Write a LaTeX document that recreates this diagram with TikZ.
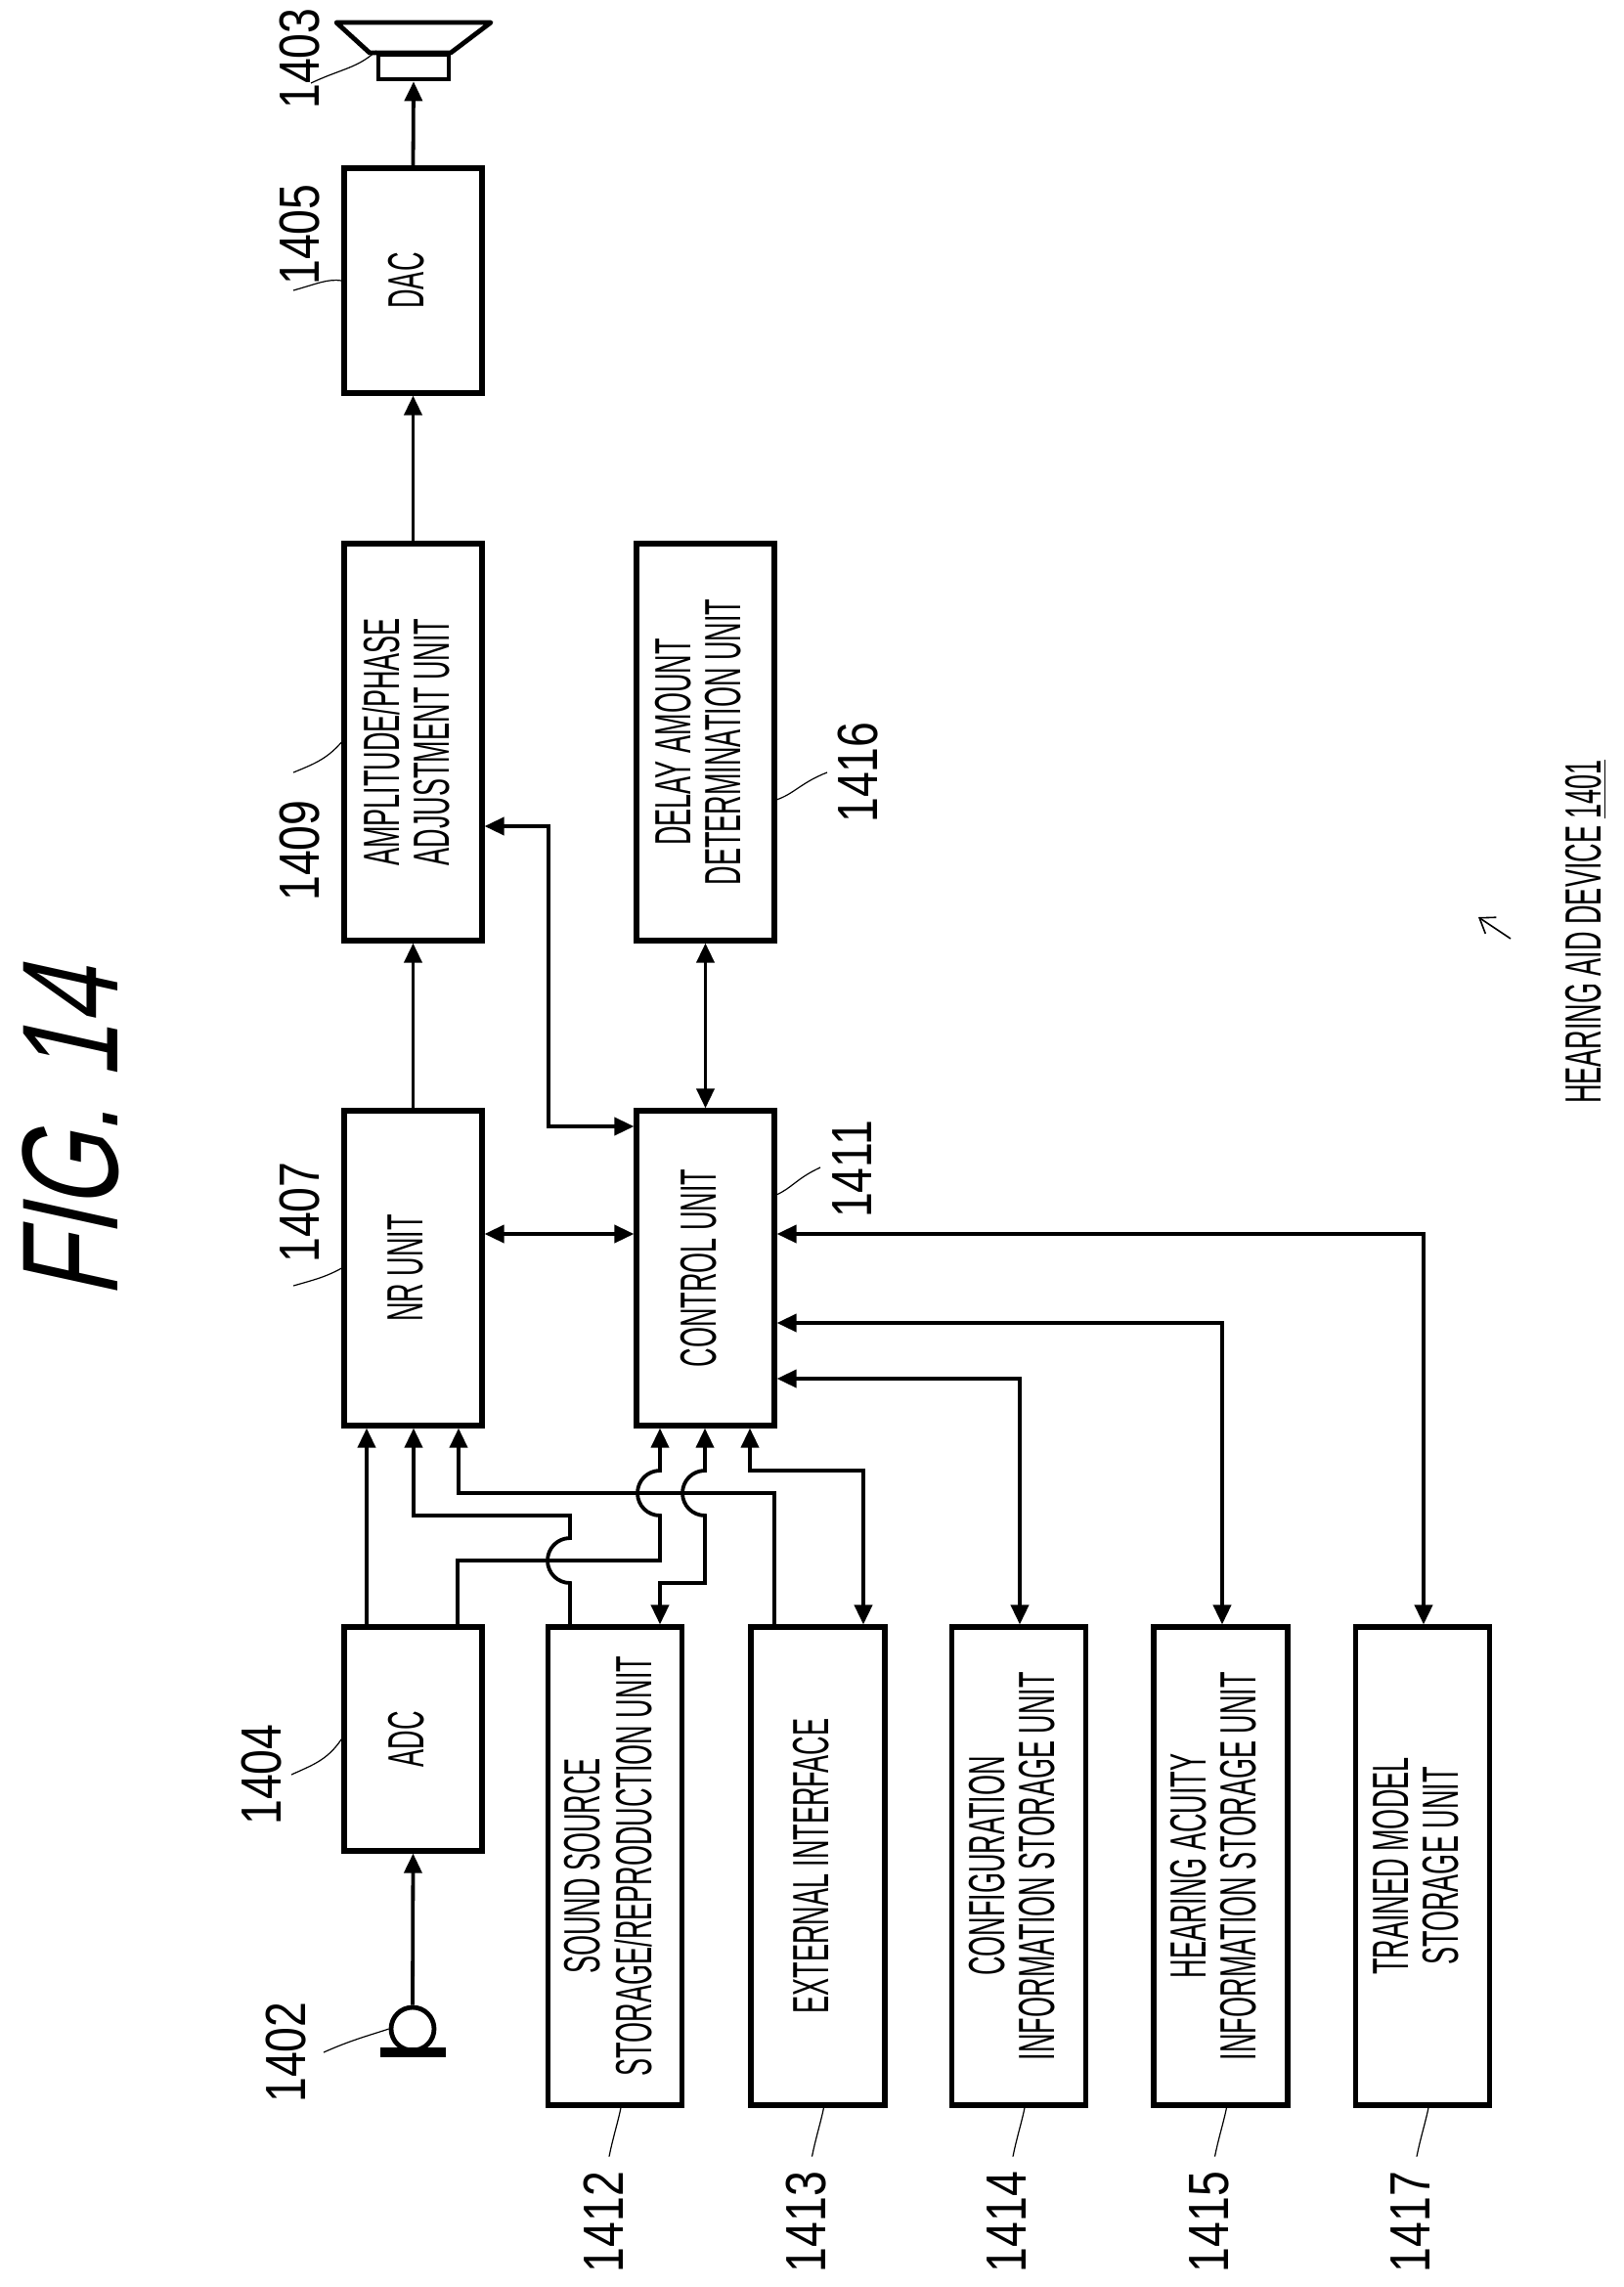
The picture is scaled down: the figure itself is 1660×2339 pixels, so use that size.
\documentclass[tikz,border=0pt]{standalone}
\usepackage{fontspec}
\setmainfont{Liberation Sans}
\newfontfamily\nar[FakeStretch=0.52]{Liberation Sans}
\newfontfamily\numf[FakeStretch=0.8]{Liberation Sans}
\newfontfamily\figf[FakeStretch=0.72,FakeSlant=0.22]{Liberation Sans}
\usetikzlibrary{arrows.meta,calc}
\begin{document}
\begin{tikzpicture}[x=0.5pt,y=-0.5pt,
  box/.style={draw,line width=2.6pt,minimum width=70.5pt,inner sep=0pt,font=\nar\fontsize{26}{25}\selectfont},
  sbox/.style={box,minimum width=68.5pt,minimum height=244.5pt},
  con/.style={line width=1.9pt},
  arr/.style={con,-{Triangle[length=10pt,width=9pt]}},
  darr/.style={con,{Triangle[length=10pt,width=9pt]}-{Triangle[length=10pt,width=9pt]}},
  lead/.style={line width=0.6pt},
  lab/.style={font=\numf\fontsize{29}{29}\selectfont,rotate=90}]
\useasboundingbox (0,0) rectangle (1660,2339);
\newcommand{\rt}[1]{\rotatebox{90}{\begin{tabular}{@{}c@{}}#1\end{tabular}}}
% boxes
\node[box,minimum height=115pt] (dac) at (422.5,287) {\rt{DAC}};
\node[box,minimum height=203pt] (amp) at (422.5,759) {\rt{AMPLITUDE/PHASE\\ADJUSTMENT UNIT}};
\node[box,minimum height=161pt] (nr) at (422.5,1297) {\rt{NR UNIT}};
\node[box,minimum height=114.5pt] (adc) at (422.5,1778.5) {\rt{ADC}};
\node[box,minimum height=203pt] (delay) at (721.5,759) {\rt{DELAY AMOUNT\\DETERMINATION UNIT}};
\node[box,minimum height=161pt] (ctrl) at (721.5,1297) {\rt{CONTROL UNIT}};
\node[sbox] (s12) at (629,1908.5) {\rt{SOUND SOURCE\\STORAGE/REPRODUCTION UNIT}};
\node[sbox] (s13) at (836.5,1908.5) {\rt{EXTERNAL INTERFACE}};
\node[sbox] (s14) at (1042,1908.5) {\rt{CONFIGURATION\\INFORMATION STORAGE UNIT}};
\node[sbox] (s15) at (1248.5,1908.5) {\rt{HEARING ACUITY\\INFORMATION STORAGE UNIT}};
\node[sbox] (s17) at (1455,1908.5) {\rt{TRAINED MODEL\\STORAGE UNIT}};
% speaker
\draw[line width=2.4pt,line join=round] (344,23) -- (502,23) -- (461,54) -- (378,54) -- cycle;
\node[draw,line width=2.4pt,minimum width=36pt,minimum height=12.5pt,inner sep=0pt] (spk) at (423,68.5) {};
% microphone
\node[draw,circle,line width=2.4pt,minimum size=22pt,inner sep=0pt] (mic) at (422,2075) {};
\fill (389,2094) rectangle (456,2104);
% x coordinates
\foreach \n/\v in {a/375,b/423,c/469,d/468,e/583,f/675,g/721,h/767,i/792,j/883,k/561,l/1043,m/1250,n/1456}
  \coordinate (x\n) at (\v,0);
% main chain
\draw[arr] (mic.north) -- (adc.south);
\draw[arr] (dac.north) -- (spk.south);
\draw[arr] (amp.north) -- (dac.south);
\draw[arr] (nr.north) -- (amp.south);
\draw[darr] (nr.east |- 0,1262) -- (ctrl.west |- 0,1262);
\draw[darr] (delay.south) -- (ctrl.north);
\draw[darr] (amp.east |- 0,845) coordinate (ae) -- (xk |- ae) -- (xk |- 0,1152) -- (ctrl.west |- 0,1152);
% ADC to NR
\draw[arr] (adc.north -| xa) -- (nr.south -| xa);
% ADC out2 to control with hop at y1527
\draw[arr] (adc.north -| xd) -- (468,1596) -- (675,1596) -- (675,1550) arc[start angle=270,end angle=90,radius=11.5pt] -- (ctrl.south -| xf);
% 1412 out to NR, hop at 1596
\draw[arr] (s12.north -| xe) -- (583,1619) arc[start angle=270,end angle=90,radius=11.5pt] -- (583,1550) -- (423,1550) -- (nr.south -| xb);
% 1413 out to NR
\draw[arr] (s13.north -| xi) -- (792,1527) -- (469,1527) -- (nr.south -| xc);
% control to 1412, hop at 1527
\draw[darr] (ctrl.south -| xg) -- (721,1504) arc[start angle=90,end angle=270,radius=11.5pt] -- (721,1619) -- (675,1619) -- (s12.north -| xf);
% control to 1413
\draw[darr] (ctrl.south -| xh) -- (767,1504) -- (883,1504) -- (s13.north -| xj);
% control right side
\draw[darr] (ctrl.east |- 0,1410) -- (1043,1410) -- (s14.north -| xl);
\draw[darr] (ctrl.east |- 0,1353) -- (1250,1353) -- (s15.north -| xm);
\draw[darr] (ctrl.east |- 0,1262) -- (1456,1262) -- (s17.north -| xn);
% labels
\node[lab] (l03) at (307,60) {1403};
\draw[lead] (318,85) .. controls (350,70) and (365,70) .. (385,52);
\node[lab] (l05) at (307,240) {1405};
\draw[lead] (300,297) .. controls (325,290) and (335,285) .. (dac.west);
\node[lab] (l09) at (307,870) {1409};
\draw[lead] (300,790) .. controls (325,780) and (335,775) .. (amp.west);
\node[lab] (l07) at (307,1240) {1407};
\draw[lead] (300,1315) .. controls (325,1308) and (335,1305) .. (nr.west);
\node[lab] (l04) at (268,1815) {1404};
\draw[lead] (298,1815) .. controls (320,1805) and (335,1800) .. (adc.west);
\node[lab] (l02) at (293,2099) {1402};
\draw[lead] (331,2099) .. controls (360,2086) and (380,2081) .. (mic.west);
\node[lab] (l11) at (872,1196) {1411};
\draw[lead] (839,1194) .. controls (815,1205) and (810,1215) .. (794,1222);
\node[lab] (l16) at (878,790) {1416};
\draw[lead] (846,790) .. controls (820,800) and (812,812) .. (794,818);
\foreach \b/\t in {s12/1412,s13/1413,s14/1414,s15/1415,s17/1417}{
  \node[lab] (l\t) at ($(\b.south)+(-12,117)$) {\t};
  \draw[lead] ($(\b.south)+(-6,50)$) .. controls ($(\b.south)+(-2,30)$) and ($(\b.south)+(3,15)$) .. ($(\b.south)+(6,0)$);
}
\node[font=\figf\fontsize{70}{70}\selectfont,rotate=90] (fig) at (72,1160) {FIG. 14};
\node[font=\nar\fontsize{26}{26}\selectfont,rotate=90] (dev) at (1622,953) {HEARING AID DEVICE \underline{1401}};
\coordinate (ar1) at (1545,960);
\coordinate (ar2) at (1512,938);
\draw[line width=0.8pt,-{Straight Barb[length=7pt,width=10pt]}] (ar1) -- (ar2);
\end{tikzpicture}
\end{document}
